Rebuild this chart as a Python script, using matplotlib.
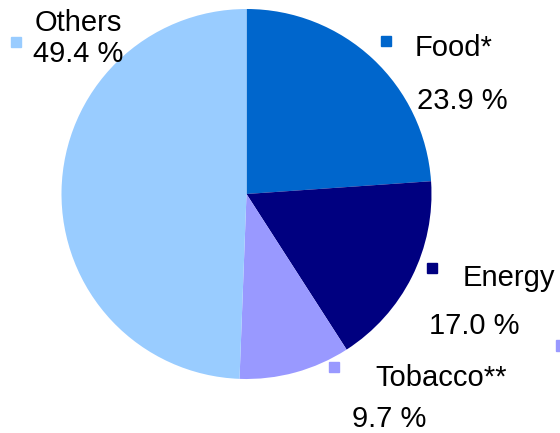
import matplotlib
matplotlib.use("Agg")
import matplotlib.pyplot as plt

plt.rcParams['font.family'] = ['Liberation Sans', 'DejaVu Sans']

categories = ['Food*', 'Energy', 'Tobacco**', 'Others']
shares = [23.9, 17.0, 9.7, 49.4]
colors = ['#0066CC', '#000080', '#9999FF', '#99CCFF']
pct_labels = ['23.9 %', '17.0 %', '9.7 %', '49.4 %']

W, H = 560, 433
fig = plt.figure(figsize=(W / 100, H / 100), dpi=100)

# pie area in pixels: centre (246.5, 194), radius 185
cx, cy, r = 246.5, 194, 185
ax = fig.add_axes([(cx - r) / W, 1 - (cy + r) / H, 2 * r / W, 2 * r / H])
ax.pie(shares, colors=colors, startangle=90, counterclock=False, radius=1,
       wedgeprops=dict(linewidth=0))
ax.set_xlim(-1, 1)
ax.set_ylim(-1, 1)
ax.set_aspect('equal')
ax.axis('off')


def px(x, y):
    return x / W, 1 - y / H


# label positions (pixels): marker, name, percentage
layout = {
    'Food*': ((386, 41), (415, 48), (417, 101)),
    'Energy': ((432, 268), (463, 278), (429, 326)),
    'Tobacco**': ((334, 367), (375, 378), (352, 419)),
    'Others': ((16, 42), (35, 23), (33, 54)),
}

for cat, col, pct in zip(categories, colors, pct_labels):
    (mx, my), (nx, ny), (qx, qy) = layout[cat]
    fig.patches.append(plt.Rectangle(px(mx - 5, my + 5), 10 / W, 10 / H,
                                     transform=fig.transFigure, color=col))
    fig.text(*px(nx, ny), cat, fontsize=21, va='center', ha='left')
    fig.text(*px(qx, qy), pct, fontsize=21, va='center', ha='left')

# stray marker cut off at the right edge
fig.patches.append(plt.Rectangle(px(556, 351), 10 / W, 11 / H,
                                 transform=fig.transFigure, color=colors[2]))

fig.savefig('out.png', dpi=100)
